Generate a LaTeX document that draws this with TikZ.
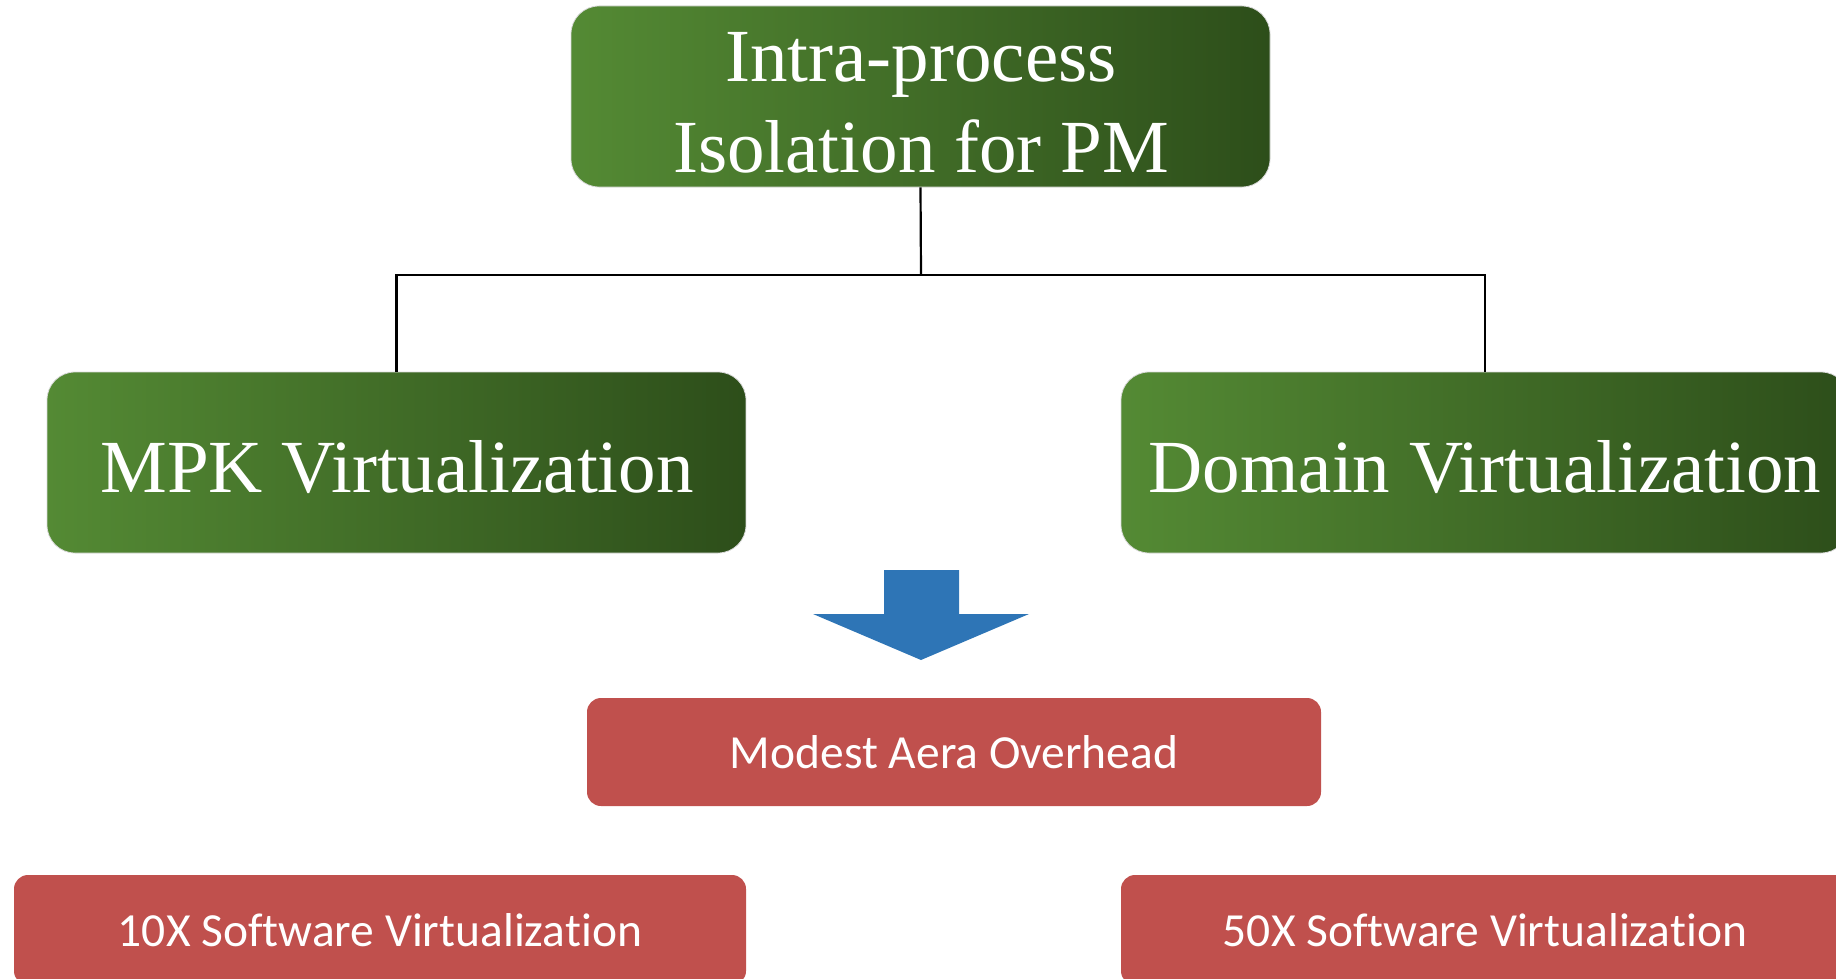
\documentclass[tikz,border=0pt]{standalone}
\usepackage{fontspec}
\setmainfont{Liberation Serif}
\newfontfamily\carlitofont[Ligatures={NoCommon}]{Carlito}
\definecolor{glight}{HTML}{548A34}
\definecolor{gdark}{HTML}{2D4E1A}
\definecolor{rfill}{HTML}{C0504D}
\definecolor{bfill}{HTML}{2E75B6}
\tikzset{
  greenbox/.style={rectangle, rounded corners=28pt, left color=glight, right color=gdark,
    draw=white!85!black, line width=0.8pt, inner sep=0pt},
  greenlabel/.style={text=white, anchor=base, inner sep=0pt, font=\fontsize{75}{90}\selectfont},
  redbox/.style={rectangle, rounded corners=14pt, fill=rfill, draw=none, inner sep=0pt},
  redlabel/.style={text=white, anchor=base, inner sep=0pt, font=\carlitofont\fontsize{47.5}{57}\selectfont},
  link/.style={draw=black, line width=2.2pt},
}
\begin{document}
\begin{tikzpicture}[x=1pt, y=-1pt]
\useasboundingbox (0,0) rectangle (1836,979);
\clip (0,0) rectangle (1836,979);

% top level: the goal
\node[greenbox, minimum width=699pt, minimum height=181pt] (top) at (920.5,96.5) {};
\node[greenlabel] (topa) at (921,82) {Intra-process};
\node[greenlabel] (topb) at (921,172) {Isolation for PM};

% second level: the two approaches
\node[greenbox, minimum width=699pt, minimum height=181pt] (mpk) at (396.5,462.5) {};
\node[greenlabel] (mpkt) at (397,492) {MPK Virtualization};
\node[greenbox, minimum width=728pt, minimum height=181pt] (dom) at (1485,462.5) {};
\node[greenlabel] (domt) at (1485,492) {Domain Virtualization};

% tree connectors
\coordinate (bus) at (921,275);
\draw[link] (top.south) -- (bus);
\draw[link] (mpk.north) |- (bus) -| (dom.north);

% block arrow pointing down
\fill[bfill] (884,570) -- (959,570) -- (959,614) -- (1029,614) -- (921,660)
  -- (813,614) -- (884,614) -- cycle;

% results
\node[redbox, minimum width=734pt, minimum height=108pt] (area) at (954,752) {};
\node[redlabel] (areat) at (954,768) {Modest Aera Overhead};

\node[redbox, minimum width=732pt, minimum height=110pt] (sw10) at (380,930) {};
\node[redlabel] (sw10t) at (380,946) {10X Software Virtualization};

\node[redbox, minimum width=728pt, minimum height=110pt] (sw50) at (1485,930) {};
\node[redlabel] (sw50t) at (1485,946) {50X Software Virtualization};
\end{tikzpicture}
\end{document}
